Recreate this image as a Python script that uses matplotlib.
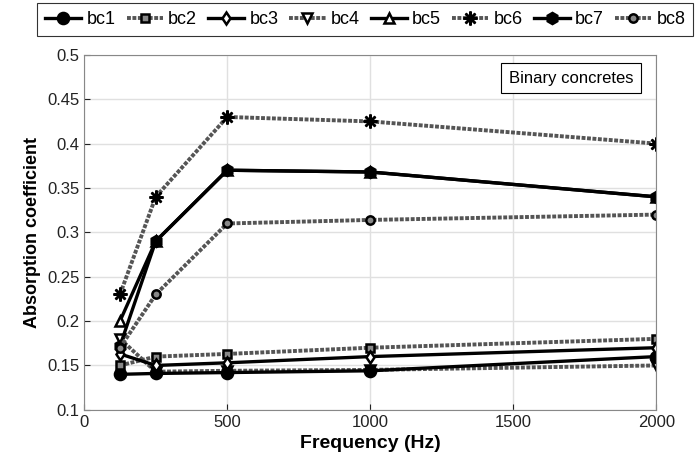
#!/usr/bin/env python
"""Absorption coefficient of binary concretes."""
import matplotlib
matplotlib.use('Agg')
import matplotlib.pyplot as plt

freq = [125, 250, 500, 1000, 2000]
bc1 = [0.14, 0.141, 0.142, 0.144, 0.16]
bc2 = [0.15, 0.16, 0.163, 0.17, 0.18]
bc3 = [0.163, 0.15, 0.153, 0.16, 0.17]
bc4 = [0.18, 0.143, 0.144, 0.145, 0.15]
bc5 = [0.2, 0.29, 0.37, 0.368, 0.34]
bc6 = [0.23, 0.34, 0.43, 0.425, 0.40]
bc7 = [0.172, 0.29, 0.37, 0.368, 0.34]
bc8 = [0.17, 0.23, 0.31, 0.314, 0.32]

names = ['bc1', 'bc2', 'bc3', 'bc4', 'bc5', 'bc6', 'bc7', 'bc8']
series = [bc1, bc2, bc3, bc4, bc5, bc6, bc7, bc8]


def main():
    """Draw the chart and save it."""
    plt.rcParams['font.family'] = ['Liberation Sans', 'DejaVu Sans']
    fig = plt.figure(figsize=(6.96, 4.61), dpi=100)
    ax = fig.add_axes([0.121, 0.111, 0.822, 0.770])

    solid = dict(color='black', linestyle='-', linewidth=2.4)
    dotted = dict(color='#555555', linestyle=(0, (1.0, 0.4)), linewidth=2.8)
    styles = [
        dict(solid, marker='o', markersize=8, mfc='black', mec='black'),
        dict(dotted, marker='s', markersize=6, mfc='#888888', mec='black'),
        dict(solid, marker='d', markersize=6, mfc='white', mec='black'),
        dict(dotted, marker='v', markersize=7, mfc='white', mec='black',
             zorder=1.5),
        dict(solid, marker='^', markersize=7, mfc='white', mec='black'),
        dict(dotted, marker=(8, 2, 0), markersize=10, mfc='black', mec='black'),
        dict(solid, marker='h', markersize=8, mfc='black', mec='black'),
        dict(dotted, marker='o', markersize=6, mfc='#888888', mec='black'),
    ]

    for name, vals, st in zip(names, series, styles):
        ax.plot(freq, vals, label=name, markeredgewidth=1.8, **st)

    ax.set_xlim(0, 2000)
    ax.set_ylim(0.1, 0.5)
    ax.set_xticks([0, 500, 1000, 1500, 2000])
    ax.set_yticks([0.1, 0.15, 0.2, 0.25, 0.3, 0.35, 0.4, 0.45, 0.5])
    ax.set_yticklabels(['0.1', '0.15', '0.2', '0.25', '0.3', '0.35',
                        '0.4', '0.45', '0.5'])
    ax.grid(True, color='#e0e0e0', linewidth=1)
    ax.set_axisbelow(True)
    ax.tick_params(direction='in', labelsize=12, colors='#222222',
                   top=False, right=False, length=4)
    for sp in ax.spines.values():
        sp.set_color('#888888')
    ax.set_xlabel('Frequency (Hz)', fontsize=14, fontweight='bold')
    ax.set_ylabel('Absorption coefficient', fontsize=13, fontweight='bold')

    ax.text(0.96, 0.955, 'Binary concretes', transform=ax.transAxes,
            ha='right', va='top', fontsize=12,
            bbox=dict(boxstyle='square,pad=0.45', fc='white', ec='black',
                      lw=0.8))

    leg = fig.legend(loc='upper right', bbox_to_anchor=(0.999, 0.998),
                     ncol=8, fontsize=13, frameon=True, fancybox=False,
                     handlelength=2.0, handletextpad=0.3, columnspacing=0.6,
                     borderpad=0.45, borderaxespad=0.1)
    leg.get_frame().set_edgecolor('black')
    leg.get_frame().set_linewidth(0.8)

    fig.savefig('out.png', dpi=100)


if __name__ == "__main__":
    main()
